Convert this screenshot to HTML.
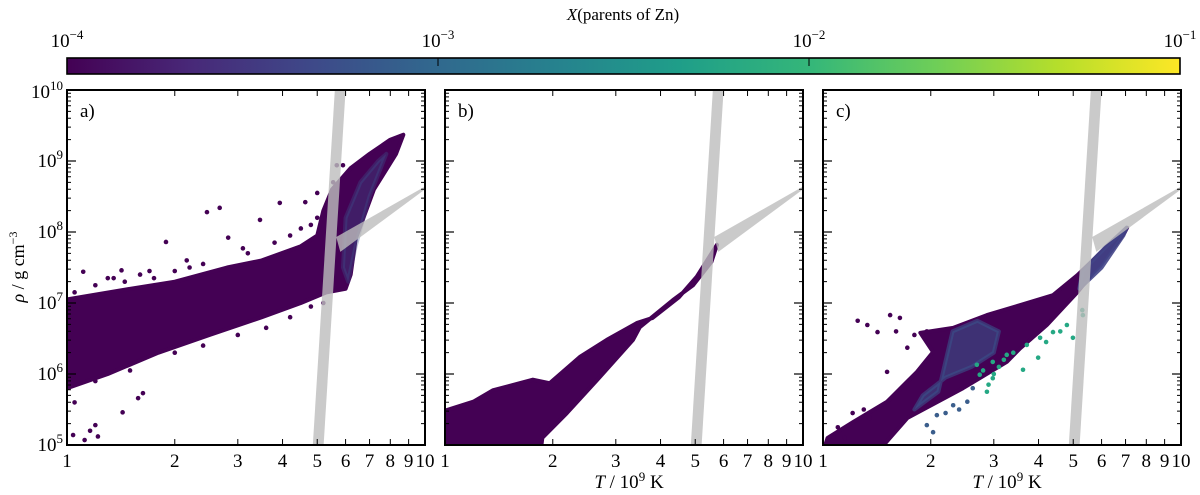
<!DOCTYPE html>
<html><head><meta charset="utf-8">
<style>
html,body{margin:0;padding:0;background:#fff;}
svg{display:block;font-family:"Liberation Serif","DejaVu Serif",serif;}
</style></head>
<body>
<svg id="chart" width="1200" height="495" viewBox="0 0 1200 495" xmlns="http://www.w3.org/2000/svg">
<defs>
<linearGradient id="viridis" x1="0" x2="1" y1="0" y2="0">
<stop offset="0" stop-color="#440154"/><stop offset="0.11" stop-color="#482878"/><stop offset="0.22" stop-color="#3e4989"/><stop offset="0.33" stop-color="#31688e"/><stop offset="0.44" stop-color="#26828e"/><stop offset="0.55" stop-color="#1f9e89"/><stop offset="0.67" stop-color="#35b779"/><stop offset="0.78" stop-color="#6ece58"/><stop offset="0.89" stop-color="#b5de2b"/><stop offset="1" stop-color="#fde725"/>
</linearGradient>
</defs>
<text x="623" y="20" font-size="17" text-anchor="middle"><tspan font-style="italic">X</tspan>(parents of Zn)</text>
<g id="cbar"></g>
<g id="panels"></g>
<text transform="translate(24,267) rotate(-90)" font-size="18" text-anchor="middle"><tspan font-style="italic">ρ</tspan> / g cm<tspan font-size="12" dy="-7">−3</tspan></text>
</svg>
<script>
// ---- data ----
const cbarTicks = [-4, -3, -2, -1];
const xTicks = [1,2,3,4,5,6,7,8,9,10];
const yTicks = [5,6,7,8,9,10];
const panelLabels = ['a)','b)','c)'];
// band (T, log rho)
const bandT = [5.6, 6.0, 5.21, 4.86];
const bandR = [10, 10, 5, 5];
const wedgeT = [5.65, 10, 10, 5.8];
const wedgeR = [7.93, 8.64, 8.6, 7.72];
// panel a cloud
const aCloudT = [1,1.5,2,2.8,3.5,4.5,5.0,5.2,5.5,6.2,7,8,8.7,8.3,7.2,6.4,6.2,6.0,5.3,4.5,3.5,2.5,1.8,1.3,1];
const aCloudR = [7.05,7.2,7.3,7.5,7.6,7.8,7.95,8.3,8.6,8.9,9.1,9.3,9.37,9.1,8.6,7.9,7.4,7.2,7.15,7.0,6.8,6.55,6.3,6.0,5.8];
const aBlueT = [6.0,6.6,7.4,7.8,7.0,6.4,6.1,5.9];
const aBlueR = [8.2,8.7,9.0,9.1,8.5,7.8,7.3,7.5];
const aOutT = [2.46,2.67,3.46,1.89,2.82,1.11,1.42,1.04,1.12,1.2,1.43,1.58,1.63,3.93,4.63,5.0,5.67,5.9,5.54,3.1,2.16,1.16,1.22,1.05,
  1.05,1.2,1.35,1.6,1.75,2.0,2.2,2.4,3.2,3.8,4.2,4.5,5.0,4.8,1.2,1.5,2.0,2.4,3.0,3.6,4.2,4.8,5.2,1.3,1.45,1.7];
const aOutR = [8.28,8.34,8.17,7.86,7.92,7.44,7.46,5.14,5.07,5.28,5.46,5.66,5.73,8.41,8.42,8.55,8.94,8.94,8.7,7.77,7.6,5.2,5.12,5.6,
  7.15,7.25,7.35,7.4,7.35,7.45,7.5,7.55,7.7,7.85,7.95,8.05,8.2,8.1,5.9,6.05,6.3,6.4,6.55,6.65,6.8,6.95,7.0,7.35,7.3,7.45];
// panel b cloud
const bCloudT = [1,1.01,1.2,1.36,1.76,1.96,2.38,2.83,3.44,3.8,4.5,5.05,5.75,5.55,4.93,4.33,3.5,3.35,2.71,2.19,1.87,1.85,1];
const bCloudR = [5.45,5.49,5.61,5.77,5.92,5.87,6.24,6.48,6.72,6.79,7.08,7.37,7.82,7.58,7.25,7.04,6.66,6.48,5.96,5.45,5.1,4.9,4.9];
// panel c cloud
const cCloudT = [7.07,5.13,4.39,3.55,2.87,2.31,1.87,2.03,1.83,1.51,1.21,1.03,1.0,1.42,1.72,2.46,3.26,3.55,4.22,5.13,6.45,6.97];
const cCloudR = [8.06,7.39,7.11,6.97,6.83,6.65,6.58,6.31,6.03,5.61,5.32,5.1,4.9,4.9,5.38,5.8,6.17,6.36,6.69,7.15,7.77,8.0];
const cBlueT = [2.3,2.7,3.1,3.0,2.6,2.2,1.9,1.8,2.1];
const cBlueR = [6.6,6.75,6.6,6.3,6.1,5.95,5.7,5.5,5.75];
const cTipT = [5.3,6.2,7.05,6.9,6.0,5.2];
const cTipR = [7.45,7.8,8.06,7.95,7.5,7.2];
const cOutT = [1.33,1.54,1.64,1.42,1.51,1.72,1.07,1.15,1.21,1.35,1.25,1.6,1.8,1.95,1.1,1.3];
const cOutR = [6.69,6.83,6.79,6.59,6.03,6.37,5.11,5.1,5.45,5.38,6.75,6.6,6.55,6.6,5.25,5.5];
const cGreenT = [2.69,2.98,3.26,3.71,4.04,4.39,4.8,5.32,4.99,3.99,3.62,2.98,2.87,2.74,3.1,3.4,2.8,3.0,3.2,2.9,4.2,4.6,5.3];
const cGreenR = [6.13,6.17,6.27,6.41,6.51,6.59,6.69,6.83,6.51,6.23,6.06,5.94,5.75,5.99,6.1,6.3,6.05,6.0,6.2,5.85,6.45,6.6,6.9];
const cBlueDotT = [2.08,2.31,2.53,1.95,2.03,2.62,2.2,2.4];
const cBlueDotR = [5.42,5.56,5.61,5.28,5.18,5.8,5.45,5.5];

// ---- layout ----
const NS = 'http://www.w3.org/2000/svg';
const panelX = [67,445,823], PW = 358, Y10 = 90, Y5 = 445;
function mk(tag, attrs, parent){const e=document.createElementNS(NS,tag);for(const k in attrs)e.setAttribute(k,attrs[k]);parent.appendChild(e);return e;}
function polyStr(x0,T,R){return T.map((t,i)=>sx(x0,t)+','+sy(R[i])).join(' ');}
function sx(x0,t){return x0+Math.log10(t)*PW;}
function sy(r){return Y10+(10-r)*(Y5-Y10)/5;}

// colorbar
const cb=document.getElementById('cbar');
const cbr=mk('rect',{x:67,y:58,width:1113,height:16,fill:'url(#viridis)',stroke:'#000','stroke-width':1.6},cb);


cbarTicks.forEach(v=>{
  const x=67+(v+4)/3*1113;
  const tl=mk('line',{x1:x,x2:x,y1:58,y2:66,stroke:'#000','stroke-width':1},cb);
  
  
  const t=mk('text',{x:x,y:47,'font-size':19,'text-anchor':'middle'},cb);
  
  
  t.innerHTML='10<tspan font-size="13" dy="-8">'+(v<0?'−':'')+Math.abs(v)+'</tspan>';
});

const panels=document.getElementById('panels');
panelX.forEach((x0,pi)=>{
  const g=mk('g',{},panels);
  
  
  const clip=mk('clipPath',{id:'clip'+pi},g);
  mk('rect',{x:x0,y:Y10,width:PW,height:Y5-Y10},clip);
  const d=mk('g',{'clip-path':'url(#clip'+pi+')'},g);
  
  
  function poly(T,R,fill,op,name){const p=mk('polygon',{points:polyStr(x0,T,R),fill:fill,'fill-opacity':op,'stroke':fill,'stroke-opacity':op,'stroke-width':4,'stroke-linejoin':'round'},d);return p;}
  function dots(T,R,fill,name){T.forEach((t,i)=>{const c=mk('circle',{cx:sx(x0,t),cy:sy(R[i]),r:2.3,fill:fill},d);});}
  if(pi===0){poly(aCloudT,aCloudR,'#440154',1,'cloud');poly(aBlueT,aBlueR,'#3b528b',0.35,'cloud-high-x');dots(aOutT,aOutR,'#440154','outlier-point');}
  if(pi===1){poly(bCloudT,bCloudR,'#440154',1,'cloud');}
  if(pi===2){poly(cCloudT,cCloudR,'#440154',1,'cloud');poly(cBlueT,cBlueR,'#3b528b',0.6,'cloud-high-x');poly(cTipT,cTipR,'#414487',0.9,'cloud-tip');dots(cOutT,cOutR,'#440154','outlier-point');dots(cBlueDotT,cBlueDotR,'#3b5e8c','blue-point');dots(cGreenT,cGreenR,'#25a884','green-point');}
  const b=mk('polygon',{points:polyStr(x0,bandT,bandR),fill:'#bdbdbd','fill-opacity':0.8},d);
  
  
  const w=mk('polygon',{points:polyStr(x0,wedgeT,wedgeR),fill:'#bdbdbd','fill-opacity':0.8},d);
  
  
  const fr=mk('rect',{x:x0,y:Y10,width:PW,height:Y5-Y10,fill:'none',stroke:'#000','stroke-width':2},g);
  
  
  xTicks.forEach(v=>{
    const x=sx(x0,v);
    mk('line',{x1:x,x2:x,y1:Y5,y2:Y5-6,stroke:'#000','stroke-width':1},g);
    mk('line',{x1:x,x2:x,y1:Y10,y2:Y10+6,stroke:'#000','stroke-width':1},g);
    const t=mk('text',{x:x,y:Y5+22,'font-size':19,'text-anchor':'middle'},g);
    
    
    t.textContent=v;
  });
  yTicks.forEach(v=>{
    const y=sy(v);
    mk('line',{x1:x0,x2:x0+9,y1:y,y2:y,stroke:'#000','stroke-width':1.2},g);
    mk('line',{x1:x0+PW,x2:x0+PW-9,y1:y,y2:y,stroke:'#000','stroke-width':1.2},g);
    if(v<10){for(let m=2;m<=9;m++){const ym=sy(v+Math.log10(m));
      mk('line',{x1:x0,x2:x0+4,y1:ym,y2:ym,stroke:'#000','stroke-width':1},g);
      mk('line',{x1:x0+PW,x2:x0+PW-4,y1:ym,y2:ym,stroke:'#000','stroke-width':1},g);}}
    if(pi===0){
      const t=mk('text',{x:x0-4,y:y+(v===10?8:6),'font-size':19,'text-anchor':'end'},g);
      
      
      t.innerHTML='10<tspan font-size="13" dy="-8">'+v+'</tspan>';
    }
  });
  const lb=mk('text',{x:x0+13,y:Y10+27,'font-size':19},g);
  
  
  lb.textContent=panelLabels[pi];
  if(pi>0){
    const xt=mk('text',{x:x0+PW/2+5,y:488,'font-size':19,'text-anchor':'middle'},g);
    
    
    xt.innerHTML='<tspan font-style="italic">T</tspan> / 10<tspan font-size="13" dy="-7">9</tspan><tspan dy="7"> K</tspan>';
  }
});
</script>
</body></html>
